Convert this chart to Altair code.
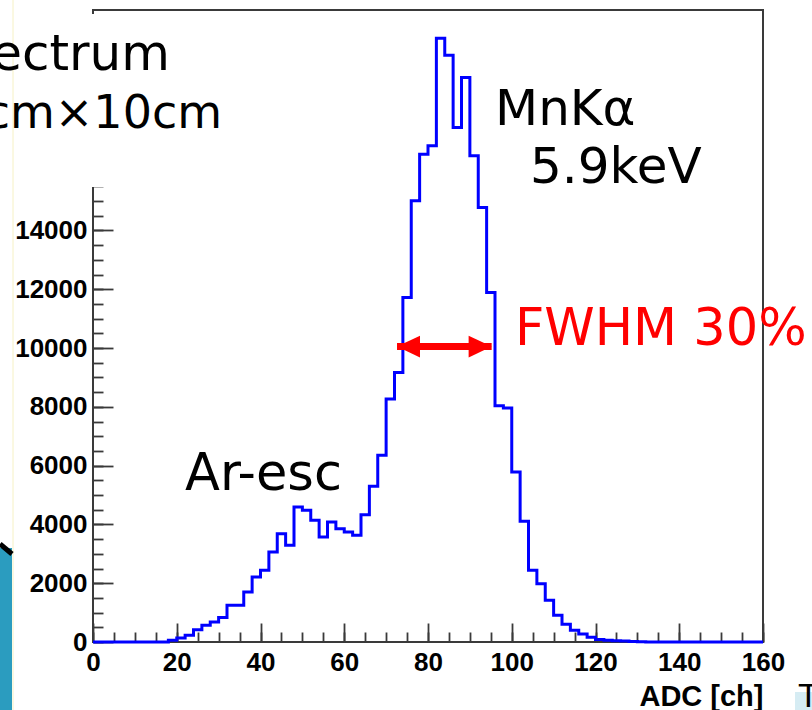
import altair as alt
import pandas as pd

# ---------------- data ----------------
bin_edges = list(range(0, 162, 2))          # ADC channel edges, 2-ch bins, 0..160
bin_counts = [
    0, 0, 0, 0, 0, 0, 0, 0, 0, 60,
    140, 230, 420, 570, 680, 830, 1250, 1250, 1700, 2210,
    2440, 3060, 3680, 3290, 4590, 4480, 4140, 3570, 4080, 3850,
    3740, 3630, 4330, 5300, 6350, 8270, 9170, 11720, 15010, 16590,
    16880, 20540, 19960, 17500, 19200, 16540, 14780, 11890, 8040, 7960,
    5780, 4110, 2440, 1980, 1420, 910, 600, 400, 270, 160,
    85, 60, 40, 30, 20, 10, 0, 0, 0, 0,
    0, 0, 0, 0, 0, 0, 0, 0, 0, 0,
]
x_major = list(range(0, 161, 20))
x_minor = list(range(0, 161, 5))
y_labels = list(range(0, 14001, 2000))       # labels above 14000 are hidden by the slide text box
y_major = list(range(0, 20001, 2000))
y_minor = list(range(0, 21001, 500))

fwhm_left = [72.6]
fwhm_right = [95.2]
half_max = [10050]

title_lines = ["Spectrum", "10cm\u00d710cm"]
peak_label = ["MnK\u03b1", "5.9keV"]
esc_label = "Ar-esc"
fwhm_label = "FWHM 30%"
x_title = "ADC [ch]"

# ---------------- tables ----------------
hist = pd.DataFrame({"adc": bin_edges, "count": bin_counts + [bin_counts[-1]]})
arrow_df = pd.DataFrame({"x1": fwhm_left, "x2": fwhm_right, "y": half_max})
one = pd.DataFrame({"k": [0]})

xs = alt.Scale(domain=[0, 160], nice=False, zero=False)
ys = alt.Scale(domain=[0, 21500], nice=False, zero=False)

W, H = 670, 632
TICK = "#3a3a3a"

# histogram + labelled axes (no ticks)
line = alt.Chart(hist).mark_line(color="#0000ff", strokeWidth=3, interpolate="step-after").encode(
    x=alt.X("adc:Q", scale=xs, axis=alt.Axis(
        orient="bottom", values=x_major, ticks=False, tickSize=0, labelPadding=7,
        labelFlush=False, labelOverlap=False, format="d",
        title=x_title, titleFont="Liberation Sans", titleFontWeight="bold", titleFontSize=29,
        titleColor="black", titleX=W, titleY=63, titleAlign="right", titleAnchor="end",
        titleBaseline="alphabetic")),
    y=alt.Y("count:Q", scale=ys, axis=alt.Axis(
        orient="left", values=y_labels, ticks=False, tickSize=0, labelPadding=6,
        labelFlush=False, labelOverlap=False, format="d", title=None)),
)

# inward major ticks
ticks_major = alt.Chart(hist).mark_line(opacity=0).encode(
    x=alt.X("adc:Q", scale=xs, axis=alt.Axis(
        orient="top", offset=-H, values=x_major, tickSize=19, tickColor=TICK, tickWidth=1.8,
        labels=False, domain=False, title=None)),
    y=alt.Y("count:Q", scale=ys, axis=alt.Axis(
        orient="right", offset=-W, values=y_major, tickSize=20, tickColor=TICK, tickWidth=1.8,
        labels=False, domain=False, title=None)),
)

# inward minor ticks
ticks_minor = alt.Chart(hist).mark_line(opacity=0).encode(
    x=alt.X("adc:Q", scale=xs, axis=alt.Axis(
        orient="top", offset=-H, values=x_minor, tickSize=10, tickColor=TICK, tickWidth=1.8,
        labels=False, domain=False, title=None)),
    y=alt.Y("count:Q", scale=ys, axis=alt.Axis(
        orient="right", offset=-W, values=y_minor, tickSize=10, tickColor=TICK, tickWidth=1.8,
        labels=False, domain=False, title=None)),
)

# white slide text box covering the upper-left corner
cover = alt.Chart(one).mark_rect(color="white").encode(
    x=alt.value(-93), x2=alt.value(137), y=alt.value(4), y2=alt.value(177))

# slide decorations
yellow_line = alt.Chart(one).mark_rule(color="#f6f1c4", strokeWidth=1).encode(
    x=alt.value(-80), y=alt.value(-10), y2=alt.value(700))
teal = alt.Chart(one).mark_rect(color="#2b9cbf").encode(
    x=alt.value(-93), x2=alt.value(-81), y=alt.value(538), y2=alt.value(700))
teal_edge = alt.Chart(one).mark_rule(color="black", strokeWidth=5).encode(
    x=alt.value(-93), x2=alt.value(-81), y=alt.value(534), y2=alt.value(544))
br_box = alt.Chart(one).mark_rect(color="#d6ecf3").encode(
    x=alt.value(702), x2=alt.value(719), y=alt.value(682), y2=alt.value(700))
br_text = alt.Chart(one).mark_text(text="T", font="Liberation Sans", fontSize=34, align="left",
                                   baseline="alphabetic", color="black").encode(
    x=alt.value(705), y=alt.value(697))

def label(txt, x, y, size=50, color="black", align="left"):
    return alt.Chart(one).mark_text(text=txt, font="DejaVu Sans", fontSize=size, align=align,
                                    baseline="alphabetic", color=color).encode(
        x=alt.value(x), y=alt.value(y))

t1 = label(title_lines[0], 77, 60, align="right")
t2 = label(title_lines[1], 129, 118, size=46, align="right")
t3 = label(peak_label[0], 402, 115)
t4 = label(peak_label[1], 437, 173)
t5 = label(esc_label, 92, 480, size=51)
t6 = label(fwhm_label, 422, 335, size=51, color="#ff0000")

# FWHM arrow
shaft = alt.Chart(arrow_df).mark_rule(color="#ff0000", strokeWidth=7).encode(
    x=alt.X("x1:Q", scale=xs, axis=None), x2="x2:Q",
    y=alt.Y("y:Q", scale=ys, axis=None))
head_l = alt.Chart(arrow_df).mark_point(shape="M0,0L2,-0.95L2,0.95Z", size=529, filled=True,
                                         color="#ff0000", opacity=1, strokeWidth=0).encode(
    x=alt.X("x1:Q", scale=xs, axis=None), y=alt.Y("y:Q", scale=ys, axis=None))
head_r = alt.Chart(arrow_df).mark_point(shape="M0,0L-2,-0.95L-2,0.95Z", size=529, filled=True,
                                         color="#ff0000", opacity=1, strokeWidth=0).encode(
    x=alt.X("x2:Q", scale=xs, axis=None), y=alt.Y("y:Q", scale=ys, axis=None))

chart = alt.layer(
    line, ticks_major, ticks_minor, cover, yellow_line, teal, teal_edge, br_box, br_text,
    t1, t2, t3, t4, t5, t6, shaft, head_l, head_r,
).resolve_axis(x="independent", y="independent").properties(
    width=W, height=H,
    autosize=alt.AutoSizeParams(type="none"),
    padding={"left": 93, "top": 10, "right": 49, "bottom": 68},
).configure_view(stroke=TICK, strokeWidth=2).configure_axis(
    grid=False, domain=False, labelFont="Liberation Sans", labelFontWeight="bold",
    labelFontSize=26, labelColor="black",
)

chart.save("out.html", embed_options={"renderer": "svg", "actions": False})
